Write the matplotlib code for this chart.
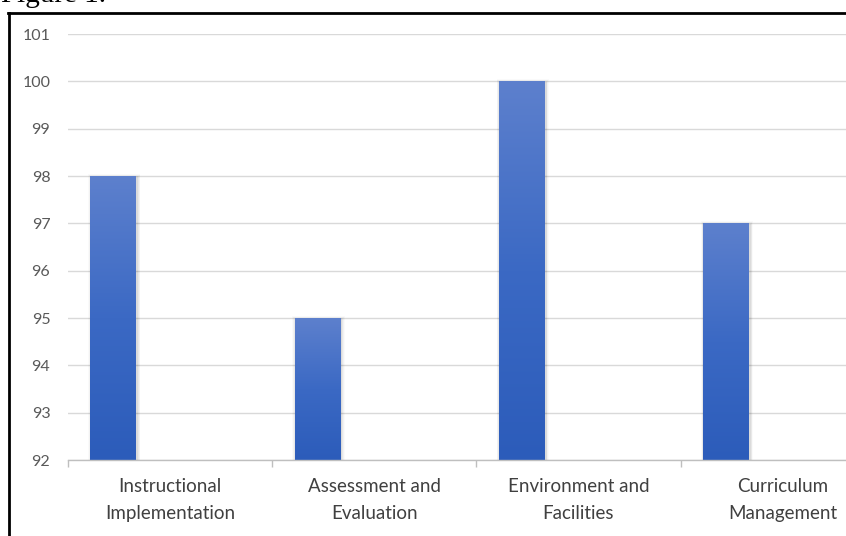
import matplotlib
matplotlib.use("Agg")
import matplotlib.pyplot as plt
import numpy as np
from matplotlib.patches import Rectangle
from matplotlib.lines import Line2D
from matplotlib.colors import LinearSegmentedColormap

categories = ["Instructional\nImplementation", "Assessment and\nEvaluation",
              "Environment and\nFacilities", "Curriculum\nManagement"]
values = [98, 95, 100, 97]
yticks = [92, 93, 94, 95, 96, 97, 98, 99, 100, 101]

W, H = 846, 536
fig = plt.figure(figsize=(W / 100, H / 100), dpi=100)
ax = fig.add_axes([67.7 / W, 1 - 460 / H, 817.2 / W, 426 / H])

x = np.arange(len(categories))
bar_off = -0.2766
bar_w = 0.225

cmap = LinearSegmentedColormap.from_list("g", ["#2c5cba", "#3b69c4", "#5d80cd"])
grad = np.linspace(0, 1, 256).reshape(-1, 1)

bars = ax.bar(x + bar_off, [v - 92 for v in values], bottom=92, width=bar_w,
              color="none", edgecolor="none", zorder=3)
for b in bars:
    x0, y0 = b.get_x(), b.get_y()
    w, h = b.get_width(), b.get_height()
    # soft shadow
    for i, a in enumerate([0.05, 0.04, 0.03, 0.02]):
        pad_x = 0.004 * (i + 1)
        pad_y = 0.02 * (i + 1)
        ax.add_patch(Rectangle((x0 - pad_x + 0.004, y0), w + 2 * pad_x, h + pad_y - 0.03,
                               facecolor="black", edgecolor="none", alpha=a, zorder=2))
    im = ax.imshow(grad, cmap=cmap, aspect="auto", origin="lower",
                   extent=[x0, x0 + w, y0, y0 + h], zorder=3.5)
    rect = Rectangle((x0, y0), w, h, transform=ax.transData, facecolor="none", edgecolor="none")
    ax.add_patch(rect)
    im.set_clip_path(rect)

ax.set_xlim(-0.5, len(categories) - 0.5)
ax.set_ylim(92, 101)
ax.set_yticks(yticks)
ax.set_yticklabels([str(t) for t in yticks])
ax.set_xticks(x)
ax.set_xticklabels(categories)
ax.set_xticks(np.arange(len(categories) + 1) - 0.5, minor=True)

ax.grid(axis="y", color="#d9d9d9", linewidth=1.0, zorder=0)
ax.set_axisbelow(True)
for s in ["top", "right", "left"]:
    ax.spines[s].set_visible(False)
ax.spines["bottom"].set_color("#bfbfbf")
ax.spines["bottom"].set_linewidth(1.0)
ax.spines["bottom"].set_zorder(4)

ax.tick_params(axis="y", length=0, pad=12.5, labelsize=11.5, labelcolor="#595959")
ax.tick_params(axis="x", which="major", length=0, pad=13, labelsize=13.5, labelcolor="#404040")
ax.tick_params(axis="x", which="minor", length=5, color="#bfbfbf", width=1.0)
for lbl in ax.get_yticklabels() + ax.get_xticklabels():
    lbl.set_fontfamily(["Lato", "DejaVu Sans"])
for lbl in ax.get_xticklabels():
    lbl.set_linespacing(1.7)

# outer border (left and top only visible)
fig.add_artist(Line2D([8.5 / W, 8.5 / W], [0, 1 - 13 / H], color="black", linewidth=2.0,
                      transform=fig.transFigure))
fig.add_artist(Line2D([7.5 / W, 1], [1 - 13 / H, 1 - 13 / H], color="black", linewidth=2.0,
                      transform=fig.transFigure))
fig.text(1 / W, 1 - 2.5 / H, "Figure 1.", fontsize=21, family=["Liberation Serif", "DejaVu Serif"],
         va="baseline", ha="left", color="black")

fig.savefig("out.png", dpi=100)
